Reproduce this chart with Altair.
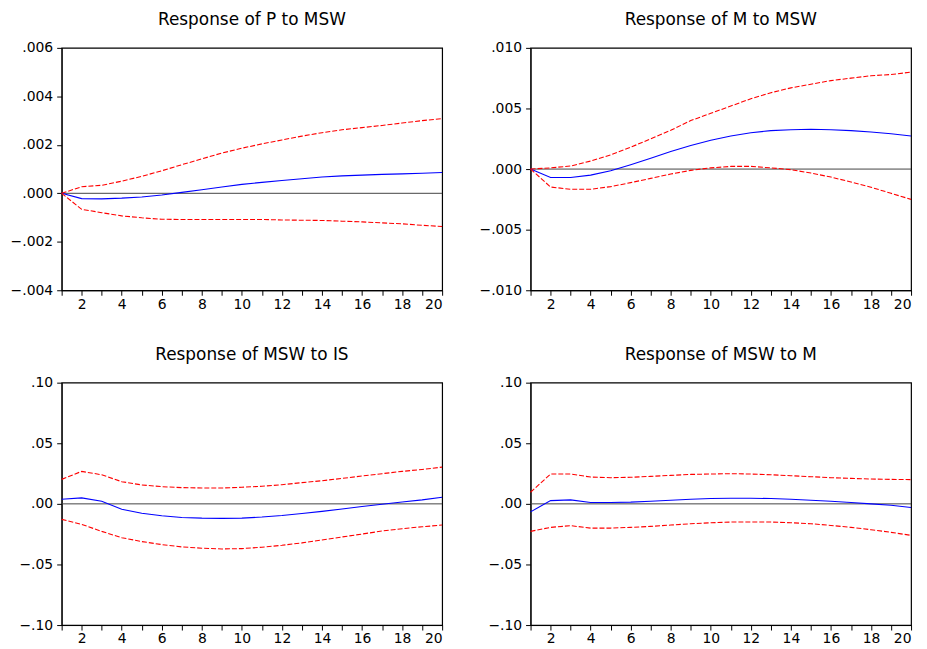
import altair as alt
import pandas as pd

periods = list(range(1, 21))

# Response of P to MSW
p_msw_irf = [0.0, -0.00022, -0.00023, -0.0002, -0.00015, -0.00007, 0.00004, 0.00015, 0.00026, 0.00037,
             0.00045, 0.00053, 0.0006, 0.00067, 0.00072, 0.00075, 0.00078, 0.0008, 0.00083, 0.00086]
p_msw_hi = [0.0, 0.00027, 0.00033, 0.0005, 0.0007, 0.00093, 0.00118, 0.00142, 0.00166, 0.00186,
            0.00204, 0.0022, 0.00236, 0.0025, 0.00262, 0.00271, 0.0028, 0.0029, 0.003, 0.00308]
p_msw_lo = [0.0, -0.00066, -0.0008, -0.00093, -0.00101, -0.00107, -0.00108, -0.00108, -0.00108, -0.00108,
            -0.00108, -0.0011, -0.00111, -0.00112, -0.00115, -0.00118, -0.00122, -0.00126, -0.00132, -0.00137]

# Response of M to MSW
m_msw_irf = [0.0, -0.0007, -0.0007, -0.0005, -0.00014, 0.00036, 0.0009, 0.00145, 0.00194, 0.00238,
             0.00273, 0.003, 0.00317, 0.00325, 0.00328, 0.00325, 0.00317, 0.00306, 0.00292, 0.00273]
m_msw_hi = [0.0, 0.0001, 0.00025, 0.00066, 0.00117, 0.0018, 0.0025, 0.0032, 0.004, 0.0046,
            0.0052, 0.0058, 0.0063, 0.0067, 0.007, 0.0073, 0.0075, 0.0077, 0.0078, 0.008]
m_msw_lo = [0.0, -0.00148, -0.00167, -0.00167, -0.00145, -0.00112, -0.00077, -0.00041, -0.00011, 0.0001,
            0.00022, 0.00022, 0.0001, -0.00005, -0.00033, -0.00066, -0.00107, -0.0015, -0.002, -0.0025]

# Response of MSW to IS
msw_is_irf = [0.0038, 0.0049, 0.0022, -0.0044, -0.0077, -0.0098, -0.0112, -0.0118, -0.012, -0.0118,
              -0.0109, -0.0096, -0.0079, -0.0062, -0.0043, -0.0022, -0.0003, 0.0016, 0.0033, 0.0055]
msw_is_hi = [0.0202, 0.0268, 0.024, 0.0183, 0.0156, 0.0142, 0.0134, 0.0131, 0.0131, 0.0137,
             0.0145, 0.0158, 0.0175, 0.0191, 0.021, 0.023, 0.0249, 0.0268, 0.0284, 0.0303]
msw_is_lo = [-0.0128, -0.0169, -0.0227, -0.0279, -0.0311, -0.0336, -0.0355, -0.0366, -0.0372, -0.0369,
             -0.0358, -0.0342, -0.0322, -0.0298, -0.0273, -0.0249, -0.0224, -0.0205, -0.0189, -0.0175]

# Response of MSW to M
msw_m_irf = [-0.0066, 0.0027, 0.0033, 0.0011, 0.0011, 0.0014, 0.0022, 0.003, 0.0038, 0.0044,
             0.0046, 0.0046, 0.0044, 0.0038, 0.003, 0.0022, 0.0011, 0.0, -0.0011, -0.003]
msw_m_hi = [0.0096, 0.0246, 0.0246, 0.0221, 0.0216, 0.0219, 0.0227, 0.0235, 0.0243, 0.0246,
            0.0249, 0.0246, 0.024, 0.0232, 0.0224, 0.0216, 0.021, 0.0205, 0.0202, 0.02]
msw_m_lo = [-0.0227, -0.0194, -0.018, -0.02, -0.02, -0.0194, -0.0186, -0.0175, -0.0164, -0.0156,
            -0.015, -0.015, -0.015, -0.0156, -0.0164, -0.0178, -0.0194, -0.0213, -0.0235, -0.026]

titles = ["Response of P to MSW", "Response of M to MSW", "Response of MSW to IS", "Response of MSW to M"]
y_domains = [[-0.004, 0.006], [-0.010, 0.010], [-0.10, 0.10], [-0.10, 0.10]]
y_ticks = [[-0.004, -0.002, 0.0, 0.002, 0.004, 0.006],
           [-0.010, -0.005, 0.0, 0.005, 0.010],
           [-0.10, -0.05, 0.0, 0.05, 0.10],
           [-0.10, -0.05, 0.0, 0.05, 0.10]]
y_formats = [".3f", ".3f", ".2f", ".2f"]
series = [(p_msw_irf, p_msw_lo, p_msw_hi), (m_msw_irf, m_msw_lo, m_msw_hi),
          (msw_is_irf, msw_is_lo, msw_is_hi), (msw_m_irf, msw_m_lo, msw_m_hi)]

FONT = "DejaVu Sans"
W, H = 383, 244


def panel(i):
    irf, lo, hi = series[i]
    df = pd.DataFrame({"period": periods * 3,
                       "value": irf + lo + hi,
                       "kind": ["irf"] * 20 + ["lo"] * 20 + ["hi"] * 20})
    fmt = y_formats[i]
    xscale = alt.Scale(domain=[1, 20], nice=False, zero=False)
    yscale = alt.Scale(domain=y_domains[i], nice=False, zero=False)
    x = alt.X("period:Q", scale=xscale,
              axis=alt.Axis(values=periods, title=None, grid=False,
                            labelExpr="datum.value % 2 == 0 ? datum.label : ''",
                            tickSize=5, labelPadding=2, domainColor="black", tickColor="black",
                            labelFont=FONT, labelFontSize=14, labelColor="black"))
    y = alt.Y("value:Q", scale=yscale,
              axis=alt.Axis(values=y_ticks[i], title=None, grid=False,
                            labelExpr=f"replace(format(datum.value, '{fmt}'), '0.', '.')",
                            tickSize=5, labelPadding=4, domainColor="black", tickColor="black",
                            labelFont=FONT, labelFontSize=14, labelColor="black",
                            minExtent=45, maxExtent=45))
    base = alt.Chart(df)
    blue = base.transform_filter("datum.kind == 'irf'").mark_line(
        color="#0000ff", strokeWidth=1.1).encode(x=x, y=y)
    red_lo = base.transform_filter("datum.kind == 'lo'").mark_line(
        color="#ff0000", strokeWidth=1.1, strokeDash=[5, 2]).encode(x=x, y=y)
    red_hi = base.transform_filter("datum.kind == 'hi'").mark_line(
        color="#ff0000", strokeWidth=1.1, strokeDash=[5, 2]).encode(x=x, y=y)
    zero = alt.Chart(pd.DataFrame({"value": [0.0]})).mark_rule(
        color="#444444", strokeWidth=1).encode(y=y)
    return alt.layer(zero, blue, red_lo, red_hi).properties(
        width=W, height=H,
        title=alt.TitleParams(titles[i], font=FONT, fontSize=17, fontWeight="normal", color="black",
                              anchor="middle", baseline="alphabetic", offset=-1))


chart = alt.concat(panel(0), panel(1), panel(2), panel(3), columns=2,
                   spacing={"row": 93, "column": 89}, bounds="flush").properties(
    background="white", padding={"left": 1, "top": 0, "right": 5, "bottom": 5}
).configure_view(stroke="black", strokeWidth=1.2)

chart.save("out.html", embed_options={"renderer": "svg", "actions": False})
